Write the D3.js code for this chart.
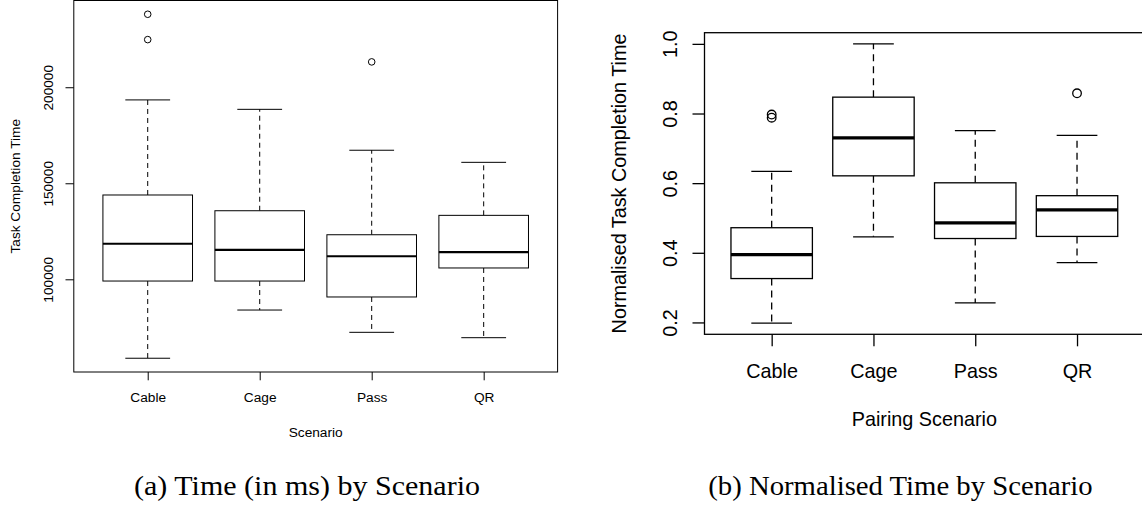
<!DOCTYPE html>
<html>
<head>
<meta charset="utf-8">
<script src="https://cdn.jsdelivr.net/npm/d3@7"></script>
<style>
  html, body { margin: 0; padding: 0; background: #fff; }
  svg { display: block; }
  .axis text { font-family: "Liberation Sans", Arial, sans-serif; fill: #000; }
  .axis line { stroke: #000; }
</style>
</head>
<body>
<svg id="chart" width="1142" height="509"></svg>
<script>
// Scenarios shown on both panels
const categories = ["Cable", "Cage", "Pass", "QR"];

// (a) Task completion time in ms: five-number summaries and outliers
const timeLowerWhisker = [58900, 84000, 72400, 69600];
const timeQ1 = [99100, 99100, 90800, 105900];
const timeMedian = [118500, 115300, 112000, 114200];
const timeQ3 = [143900, 135700, 123200, 133300];
const timeUpperWhisker = [193400, 188500, 167200, 160900];
const timeOutliers = [[238000, 224800], [], [213200], []];
const timeTicks = [100000, 150000, 200000];

// (b) Normalised task completion time
const normLowerWhisker = [0.198, 0.446, 0.256, 0.372];
const normQ1 = [0.326, 0.621, 0.441, 0.447];
const normMedian = [0.395, 0.730, 0.486, 0.523];
const normQ3 = [0.472, 0.847, 0.601, 0.564];
const normUpperWhisker = [0.634, 1.000, 0.751, 0.737];
const normOutliers = [[0.788, 0.797], [], [], [0.858]];
const normTicks = [0.2, 0.4, 0.6, 0.8, 1.0];

const svg = d3.select("#chart");

function drawPanel(p) {
  const g = svg.append("g");

  // R-style limits: data range padded by 4% on each side
  const all = [].concat(p.lower, p.upper, ...p.outliers);
  const [lo, hi] = d3.extent(all);
  const pad = (hi - lo) * 0.04;
  const y = d3.scaleLinear().domain([lo - pad, hi + pad]).range([p.bottom, p.top]);
  const x = d3.scaleLinear().domain([0.34, categories.length + 0.66]).range([p.left, p.right]);
  const step = x(2) - x(1);
  const boxW = step * 0.8, capW = boxW * 0.5;

  const rows = categories.map((c, i) => ({
    c, i, pos: i + 1,
    lw: p.lower[i], q1: p.q1[i], med: p.median[i], q3: p.q3[i], uw: p.upper[i],
    out: p.outliers[i]
  }));

  const boxes = g.selectAll("g.box").data(rows).join("g").attr("class", "box");

  // dashed whiskers
  boxes.append("line")
    .attr("x1", d => x(d.pos)).attr("x2", d => x(d.pos))
    .attr("y1", d => y(d.q3)).attr("y2", d => y(d.uw))
    .attr("stroke", "#000").attr("stroke-width", p.lw).attr("stroke-dasharray", p.dash);
  boxes.append("line")
    .attr("x1", d => x(d.pos)).attr("x2", d => x(d.pos))
    .attr("y1", d => y(d.q1)).attr("y2", d => y(d.lw))
    .attr("stroke", "#000").attr("stroke-width", p.lw).attr("stroke-dasharray", p.dash);
  // staples
  ["uw", "lw"].forEach(k => {
    boxes.append("line")
      .attr("x1", d => x(d.pos) - capW / 2).attr("x2", d => x(d.pos) + capW / 2)
      .attr("y1", d => y(d[k])).attr("y2", d => y(d[k]))
      .attr("stroke", "#000").attr("stroke-width", p.lw);
  });
  // boxes
  boxes.append("rect")
    .attr("x", d => x(d.pos) - boxW / 2).attr("width", boxW)
    .attr("y", d => y(d.q3)).attr("height", d => y(d.q1) - y(d.q3))
    .attr("fill", "#fff").attr("stroke", "#000").attr("stroke-width", p.lw);
  // medians
  boxes.append("line")
    .attr("x1", d => x(d.pos) - boxW / 2).attr("x2", d => x(d.pos) + boxW / 2)
    .attr("y1", d => y(d.med)).attr("y2", d => y(d.med))
    .attr("stroke", "#000").attr("stroke-width", p.medW);
  // outliers
  boxes.selectAll("circle").data(d => d.out.map(v => ({ v, pos: d.pos }))).join("circle")
    .attr("cx", d => x(d.pos)).attr("cy", d => y(d.v)).attr("r", p.pointR)
    .attr("fill", "none").attr("stroke", "#000").attr("stroke-width", p.lw);

  // plot frame
  g.append("rect")
    .attr("x", p.left).attr("y", p.top)
    .attr("width", p.right - p.left).attr("height", p.bottom - p.top)
    .attr("fill", "none").attr("stroke", "#000").attr("stroke-width", p.lw);

  // y axis
  const yAxis = g.append("g").attr("class", "axis")
    .attr("transform", `translate(${p.left},0)`)
    .call(d3.axisLeft(y).tickValues(p.ticks).tickFormat(p.fmt).tickSize(p.tickLen).tickSizeOuter(0));
  yAxis.select(".domain").remove();
  yAxis.selectAll(".tick line").attr("stroke-width", p.lw);
  yAxis.selectAll(".tick text")
    .attr("x", null).attr("dy", null)
    .attr("text-anchor", "middle")
    .attr("transform", `translate(${-p.yLabOff},0) rotate(-90)`)
    .style("font-size", p.font + "px");

  // x axis
  const xAxis = g.append("g").attr("class", "axis")
    .attr("transform", `translate(0,${p.bottom})`)
    .call(d3.axisBottom(x).tickValues(rows.map(d => d.pos)).tickFormat(v => categories[v - 1])
      .tickSize(p.tickLen).tickSizeOuter(0));
  xAxis.select(".domain").remove();
  xAxis.selectAll(".tick line").attr("stroke-width", p.lw);
  xAxis.selectAll(".tick text")
    .attr("y", p.xLabOff).attr("dy", null)
    .style("font-size", p.font + "px");

  // axis titles
  g.append("text")
    .attr("transform", `translate(${p.yTitleX},${(p.top + p.bottom) / 2}) rotate(-90)`)
    .attr("text-anchor", "middle")
    .style("font-family", "'Liberation Sans', Arial, sans-serif")
    .style("font-size", p.font + "px")
    .text(p.yTitle);
  g.append("text")
    .attr("x", (p.left + p.right) / 2).attr("y", p.xTitleY)
    .attr("text-anchor", "middle")
    .style("font-family", "'Liberation Sans', Arial, sans-serif")
    .style("font-size", p.font + "px")
    .text(p.xTitle);

  // sub-figure caption
  svg.append("text")
    .attr("x", p.capX).attr("y", 495)
    .attr("textLength", p.capW).attr("lengthAdjust", "spacingAndGlyphs")
    .style("font-family", "'Liberation Serif', 'Times New Roman', serif")
    .style("font-size", "27px")
    .text(p.caption);
}

drawPanel({
  lower: timeLowerWhisker, q1: timeQ1, median: timeMedian, q3: timeQ3, upper: timeUpperWhisker,
  outliers: timeOutliers, ticks: timeTicks, fmt: d3.format("d"),
  left: 73.8, right: 557.6, top: 0.5, bottom: 372,
  lw: 1, medW: 2.2, dash: "5,4", pointR: 3.3, tickLen: 8.3, font: 13.7,
  yLabOff: 21, xLabOff: 30, yTitleX: 19.5, xTitleY: 436.5,
  yTitle: "Task Completion Time", xTitle: "Scenario",
  caption: "(a) Time (in ms) by Scenario", capX: 134, capW: 346
});

drawPanel({
  lower: normLowerWhisker, q1: normQ1, median: normMedian, q3: normQ3, upper: normUpperWhisker,
  outliers: normOutliers, ticks: normTicks, fmt: d3.format(".1f"),
  left: 704.5, right: 1144.2, top: 32.7, bottom: 334.3,
  lw: 1.3, medW: 3.3, dash: "7,5", pointR: 4.3, tickLen: 12, font: 19.8,
  yLabOff: 27.2, xLabOff: 43.7, yTitleX: 626, xTitleY: 426,
  yTitle: "Normalised Task Completion Time", xTitle: "Pairing Scenario",
  caption: "(b) Normalised Time by Scenario", capX: 708.3, capW: 384.4
});
</script>
</body>
</html>
